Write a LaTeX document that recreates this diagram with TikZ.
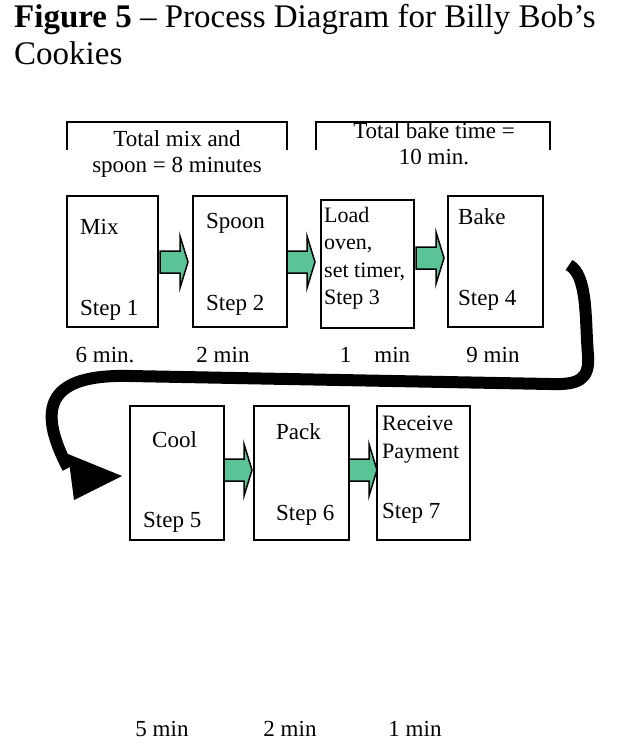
\documentclass[tikz,border=0pt]{standalone}
\usepackage{fontspec}
\setmainfont{Liberation Serif}
\begin{document}
\begin{tikzpicture}[x=1pt,y=-1pt,
 garrow/.pic={\draw[line width=1.5pt,fill={rgb,255:red,90;green,196;blue,150}] (-14,-11) -- (6,-11) -- (6,-26) -- (14,0) -- (6,26) -- (6,11) -- (-14,11) -- cycle;},
 t/.style={font=\fontsize{23}{26}\selectfont,inner sep=0pt}]
\useasboundingbox (0,0) rectangle (638,752);
\node[anchor=north west,inner sep=0pt,align=left,font=\fontsize{33}{37}\selectfont] (title) at (14,4) {\textbf{Figure 5} -- Process Diagram for Billy Bob’s\\Cookies};
% brackets
\draw[line width=2.5pt] (67,150) |- (287,122) -- (287,150);
\draw[line width=2.5pt] (316,150) |- (550,122) -- (550,150);
\node[t,align=center] (b1) at (177,154) {Total mix and\\spoon = 8 minutes};
\node[t,align=center] (b2) at (434,144) {Total bake time =\\10 min.};
% boxes
\draw[line width=2.5pt] (67,196) rectangle (158,327) (193,196) rectangle (287,327) (321,200) rectangle (414,328) (448,196) rectangle (543,327);
\draw[line width=2.5pt] (130,406) rectangle (224,540) (254,406) rectangle (349,540) (377,406) rectangle (470,540);
\node[t,anchor=west] (m1) at (80,227) {Mix};
\node[t,anchor=west] (s1) at (80,310) {Step 1};
\node[t,anchor=west] (m2) at (206,223) {Spoon};
\node[t,anchor=west] (s2) at (206,305) {Step 2};
\node[t,anchor=north west,align=left,font=\fontsize{22}{27.5}\selectfont] (m3) at (324,207) {Load\\oven,\\set timer,\\Step 3};
\node[t,anchor=west] (m4) at (458,217) {Bake};
\node[t,anchor=west] (s4) at (458,300) {Step 4};
\node[t,anchor=west] (m5) at (152,440) {Cool};
\node[t,anchor=west] (s5) at (143,522) {Step 5};
\node[t,anchor=west] (m6) at (276,432) {Pack};
\node[t,anchor=west] (s6) at (276,515) {Step 6};
\node[t,anchor=north west,align=left,font=\fontsize{22}{27.5}\selectfont] (m7) at (382,416) {Receive\\Payment};
\node[t,anchor=west] (s7) at (382,513) {Step 7};
% green arrows
\pic at (174,262) {garrow};
\pic at (301,262) {garrow};
\pic at (430,258) {garrow};
\pic at (238,470) {garrow};
\pic at (363,470) {garrow};
% times
\node[t] (t1) at (105,355) {6 min.};
\node[t] (t2) at (223,355) {2 min};
\node[t] (t3) at (375,355) {1\hspace{1em}min};
\node[t] (t4) at (493,355) {9 min};
\node[t] (t5) at (162,729) {5 min};
\node[t] (t6) at (290,729) {2 min};
\node[t] (t7) at (415,729) {1 min};
% big arrow
\coordinate (a0) at (569,265);
\draw[line width=12pt] (a0) .. controls (588,275) and (585,320) .. (588,355) .. controls (590,380) and (578,385) .. (550,384) -- (130,376) .. controls (50,374) and (35,405) .. (68,468);
\fill (68,454) -- (122,476) -- (74,500) -- cycle;
\end{tikzpicture}
\end{document}
